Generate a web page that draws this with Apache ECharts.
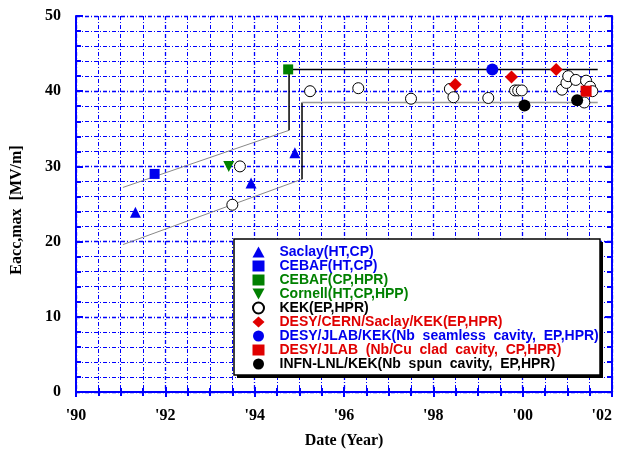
<!DOCTYPE html>
<html>
<head>
<meta charset="utf-8">
<script src="https://cdn.jsdelivr.net/npm/echarts@6/dist/echarts.min.js"></script>
<style>
  html, body { margin: 0; padding: 0; background: #fff; }
  #chart { width: 620px; height: 449px; }
</style>
</head>
<body>
<div id="chart"></div>
<script>
// year ('90 = 90) and Eacc,max [MV/m]
const saclayX = [91.33, 93.92, 94.9]
const saclayY = [23.9, 27.8, 31.8]
const cebafHtX = [91.76]
const cebafHtY = [29.0]
const cebafHprX = [94.75]
const cebafHprY = [42.9]
const cornellX = [93.42]
const cornellY = [30.0]
const kekX = [93.5, 93.67, 95.24, 96.32, 97.5, 98.37, 98.45, 99.23, 99.83, 99.9, 99.98,
  100.88, 100.98, 101.02, 101.19, 101.42, 101.51, 101.56, 101.38]
const kekY = [24.9, 30.0, 40.0, 40.4, 39.0, 40.3, 39.2, 39.1, 40.1, 40.1, 40.1,
  40.2, 41.1, 42.0, 41.5, 41.4, 40.6, 40.0, 38.5]
const desyCernX = [98.49, 99.75, 100.75]
const desyCernY = [40.9, 41.9, 42.9]
const seamlessX = [99.32]
const seamlessY = [42.9]
const cladX = [101.42]
const cladY = [40.0]
const spunX = [100.04, 101.22]
const spunY = [38.1, 38.8]

// trend / envelope lines
const upperSlant = [[91.05, 27.2], [94.77, 34.8]]
const upperStep = [[94.77, 34.8], [94.77, 42.9], [101.68, 42.9]]
const lowerSlant = [[91.05, 19.6], [95.06, 28.3]]
const lowerStep = [[95.06, 28.3], [95.06, 38.5]]
const lowerFlat = [[95.06, 38.5], [101.68, 38.5]]

const yearTicks = [90, 92, 94, 96, 98, 100, 102]

const BLUE = '#0000ee'
const GREEN = '#008000'
const RED = '#e00000'
const BLACK = '#000000'

function pts(xs, ys) {
  return xs.map((x, i) => [x, ys[i]])
}

const names = [
  'Saclay(HT,CP)',
  'CEBAF(HT,CP)',
  'CEBAF(CP,HPR)',
  'Cornell(HT,CP,HPP)',
  'KEK(EP,HPR)',
  'DESY/CERN/Saclay/KEK(EP,HPR)',
  'DESY/JLAB/KEK(Nb  seamless  cavity,  EP,HPR)',
  'DESY/JLAB  (Nb/Cu  clad  cavity,  CP,HPR)',
  'INFN-LNL/KEK(Nb  spun  cavity,  EP,HPR)'
]
const textColors = [BLUE, BLUE, GREEN, GREEN, BLACK, RED, BLUE, RED, BLACK]
// legend icons (down-triangle drawn as a path, the rest follow the series)
const legendIcons = [null, null, null, 'path://M0,0 L10,0 L5,9 Z', null, null, null, null, null]

let myChart = echarts.init(document.querySelector('#chart'))

const gridDash = [4, 2, 1, 2]
const axisFont = { fontFamily: 'Liberation Serif', fontWeight: 'bold', fontSize: 16, color: '#000' }

function scatter(name, data, symbol, size, color, extra) {
  return Object.assign({
    name: name,
    type: 'scatter',
    data: data,
    symbol: symbol,
    symbolSize: size,
    itemStyle: { color: color, opacity: 1 },
    z: 5
  }, extra || {})
}

function line(data, color, width) {
  return {
    type: 'line',
    data: data,
    symbol: 'none',
    lineStyle: { color: color, width: width },
    silent: true,
    z: 3
  }
}

myChart.setOption({
  animation: false,
  grid: { left: 76, right: 8, top: 16, bottom: 57, outerBoundsMode: 'none', containLabel: false },
  xAxis: [
    {
      type: 'value',
      min: 90,
      max: 102,
      interval: 2,
      name: 'Date (Year)',
      nameLocation: 'middle',
      nameGap: 41,
      nameTextStyle: axisFont,
      axisLine: { lineStyle: { color: '#0000ff', width: 2 } },
      axisTick: { inside: true, length: 5, lineStyle: { color: '#0000ff', width: 2 } },
      minorTick: { show: true, splitNumber: 4, length: 4, lineStyle: { color: '#0000ff', width: 2 } },
      splitLine: { show: true, lineStyle: { color: '#0000ff', width: 1.3, type: gridDash } },
      minorSplitLine: { show: true, lineStyle: { color: '#0000ff', width: 1, type: gridDash } },
      axisLabel: Object.assign({
        margin: 16,
        alignMaxLabel: 'right',
        formatter: v => yearTicks.includes(v) ? "'" + String(v % 100).padStart(2, '0') : ''
      }, axisFont)
    },
    {
      type: 'value',
      position: 'top',
      min: 90,
      max: 102,
      interval: 2,
      axisLine: { show: true, lineStyle: { color: '#0000ff', width: 2 } },
      axisTick: { show: true, inside: true, length: 5, lineStyle: { color: '#0000ff', width: 2 } },
      minorTick: { show: true, splitNumber: 4, length: 4, lineStyle: { color: '#0000ff', width: 2 } },
      splitLine: { show: false },
      axisLabel: { show: false }
    }
  ],
  yAxis: [
    {
      type: 'value',
      min: 0,
      max: 50,
      interval: 10,
      name: 'Eacc,max  [MV/m]',
      nameLocation: 'middle',
      nameGap: 51,
      nameTextStyle: Object.assign({ padding: [0, 0, 0, -12] }, axisFont),
      axisLine: { show: true, lineStyle: { color: '#0000ff', width: 2 } },
      axisTick: { show: true, inside: true, length: 7, lineStyle: { color: '#0000ff', width: 2 } },
      minorTick: { show: true, splitNumber: 5, length: 5, lineStyle: { color: '#0000ff', width: 2 } },
      splitLine: { show: true, lineStyle: { color: '#0000ff', width: 1.3, type: gridDash } },
      minorSplitLine: { show: true, lineStyle: { color: '#0000ff', width: 1, type: gridDash } },
      axisLabel: Object.assign({ margin: 15 }, axisFont)
    },
    {
      type: 'value',
      position: 'right',
      min: 0,
      max: 50,
      interval: 10,
      axisLine: { show: true, lineStyle: { color: '#0000ff', width: 2 } },
      axisTick: { show: true, inside: true, length: 7, lineStyle: { color: '#0000ff', width: 2 } },
      minorTick: { show: true, splitNumber: 5, length: 5, lineStyle: { color: '#0000ff', width: 2 } },
      splitLine: { show: false },
      axisLabel: { show: false }
    }
  ],
  legend: {
    orient: 'vertical',
    left: 252,
    top: 245,
    itemWidth: 12,
    itemHeight: 11,
    itemGap: 0,
    padding: 0,
    z: 20,
    data: names.map((n, i) => {
      const d = { name: n, textStyle: { color: textColors[i] } }
      if (legendIcons[i]) d.icon = legendIcons[i]
      return d
    }),
    textStyle: {
      fontFamily: 'Liberation Sans',
      fontWeight: 'bold',
      fontSize: 14,
      lineHeight: 14,
      padding: [0, 0, 0, 10]
    }
  },
  graphic: [
    {
      type: 'rect',
      z: 15,
      shape: { x: 237, y: 242, width: 366, height: 136 },
      style: { fill: '#000' }
    },
    {
      type: 'rect',
      z: 16,
      shape: { x: 234, y: 239, width: 366, height: 136 },
      style: { fill: '#fff', stroke: '#000', lineWidth: 1.5 }
    }
  ],
  series: [
    line(upperSlant, '#888', 1),
    line(upperStep, BLACK, 1.5),
    line(lowerSlant, '#888', 1),
    line(lowerStep, BLACK, 1.5),
    line(lowerFlat, '#999', 1.5),
    scatter(names[0], pts(saclayX, saclayY), 'triangle', 11, BLUE),
    scatter(names[1], pts(cebafHtX, cebafHtY), 'rect', 10, BLUE),
    scatter(names[2], pts(cebafHprX, cebafHprY), 'rect', 10, GREEN),
    scatter(names[3], pts(cornellX, cornellY), 'triangle', 11, GREEN, { symbolRotate: 180 }),
    scatter(names[4], pts(kekX, kekY), 'circle', 11, '#fff', {
      itemStyle: { color: '#fff', borderColor: BLACK, borderWidth: 1, opacity: 1 }
    }),
    scatter(names[5], pts(desyCernX, desyCernY), 'diamond', 13, RED),
    scatter(names[6], pts(seamlessX, seamlessY), 'circle', 12, BLUE),
    scatter(names[7], pts(cladX, cladY), 'rect', 11, RED),
    scatter(names[8], pts(spunX, spunY), 'circle', 12, BLACK)
  ]
})
</script>
</body>
</html>
